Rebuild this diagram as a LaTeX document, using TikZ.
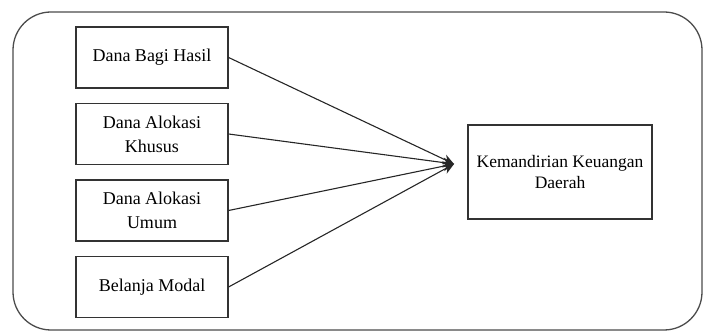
\documentclass[tikz,border=0pt]{standalone}
\usepackage{fontspec}
\setmainfont{Liberation Serif}
\usetikzlibrary{arrows.meta}
\begin{document}
\begin{tikzpicture}[x=1pt,y=1pt,
  box/.style={draw=black!80, line width=1.2pt, inner sep=0pt, align=center, font=\fontsize{18}{24}\selectfont},
  leftbox/.style={box, minimum width=152pt, minimum height=61pt},
  conn/.style={draw=black!85, line width=1.1pt, -{Stealth[length=11pt,width=10pt]}}]
\useasboundingbox (0,0) rectangle (703,331);
\draw[black!70, line width=1.3pt, rounded corners=38pt] (13,319) rectangle (702,1);
\node[leftbox] (dbh) at (152,273.5) {Dana Bagi Hasil};
\node[leftbox] (dak) at (152,197) {Dana Alokasi\\Khusus};
\node[leftbox] (dau) at (152,120.5) {Dana Alokasi\\Umum};
\node[leftbox] (bm) at (152,44) {Belanja Modal};
\node[box, minimum width=184pt, minimum height=94pt, font=\fontsize{17.5}{21}\selectfont] (kkd) at (560,159) {Kemandirian Keuangan\\Daerah};
\coordinate (tip) at (454,167);
\draw[conn] (dbh.east) -- (tip);
\draw[conn] (dak.east) -- (tip);
\draw[conn] (dau.east) -- (tip);
\draw[conn] (bm.east) -- (tip);
\end{tikzpicture}
\end{document}
